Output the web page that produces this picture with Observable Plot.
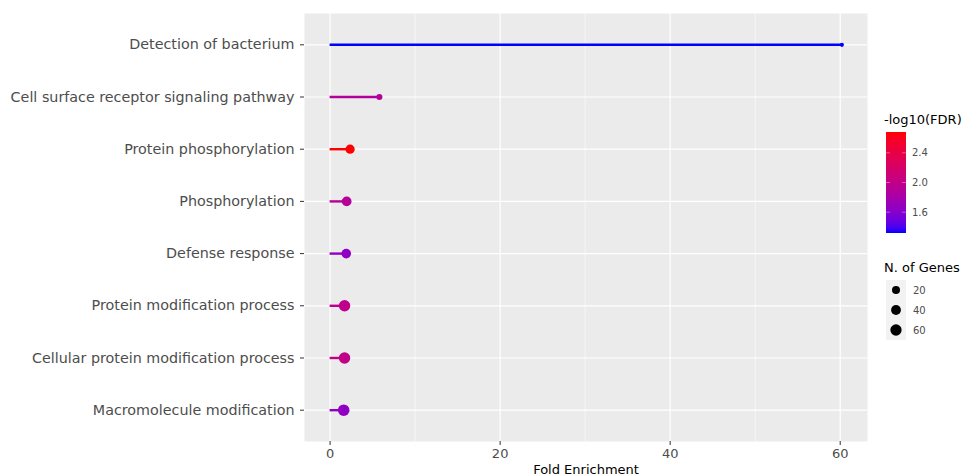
<!DOCTYPE html>
<html>
<head>
<meta charset="utf-8">
<script src="https://cdn.jsdelivr.net/npm/d3@7"></script>
<script src="https://cdn.jsdelivr.net/npm/@observablehq/plot@0.6"></script>
<style>
  html, body { margin: 0; padding: 0; background: #ffffff; }
  #chart { width: 965px; height: 475px; }
  svg { font-family: "DejaVu Sans", sans-serif; }
</style>
</head>
<body>
<div id="chart"></div>
<script>
// ---- data ----
const terms = [
  "Detection of bacterium",
  "Cell surface receptor signaling pathway",
  "Protein phosphorylation",
  "Phosphorylation",
  "Defense response",
  "Protein modification process",
  "Cellular protein modification process",
  "Macromolecule modification"
];
const foldEnrichment = [60.2, 5.8, 2.35, 1.95, 1.9, 1.7, 1.7, 1.6];
const negLog10FDR = [1.32, 1.88, 2.68, 1.9, 1.65, 1.98, 2.0, 1.66];
const nGenes = [3, 7, 32, 38, 36, 62, 63, 65];
const xTicks = [0, 20, 40, 60];
const xMinorTicks = [10, 30, 50];
const colorTicks = [1.6, 2.0, 2.4];
const sizeTicks = [20, 40, 60];

const data = terms.map((t, i) => ({
  term: t, fe: foldEnrichment[i], fdr: negLog10FDR[i], genes: nGenes[i]
}));

const minGenes = d3.min(nGenes), maxGenes = d3.max(nGenes);
const colorDomain = [1.32, 2.68];
const maxFE = d3.max(foldEnrichment);
const xDomain = [-0.05 * maxFE, maxFE * 1.05];

const colorOpts = { type: "linear", domain: colorDomain, range: ["blue", "red"], interpolate: d3.interpolateLab };
const rOpts = { type: "sqrt", domain: [0, maxGenes - minGenes], range: [2.06, 5.8] };

const W = 965, H = 475;
const plot = Plot.plot({
  width: W,
  height: H,
  marginLeft: 304,
  marginRight: 98,
  marginTop: 13,
  marginBottom: 34,
  style: { fontFamily: "DejaVu Sans, sans-serif", background: "white" },
  x: { domain: xDomain, ticks: xTicks, label: null },
  y: { type: "point", domain: terms, padding: 0.6, round: false, label: null },
  color: colorOpts,
  r: rOpts,
  marks: [
    Plot.frame({ fill: "#ebebeb", stroke: "none" }),
    Plot.gridX(xMinorTicks, { stroke: "white", strokeOpacity: 1, strokeWidth: 0.6 }),
    Plot.gridX(xTicks, { stroke: "white", strokeOpacity: 1, strokeWidth: 1.2 }),
    Plot.gridY(terms, { stroke: "white", strokeOpacity: 1, strokeWidth: 1.2 }),
    Plot.ruleY(data, { y: "term", x1: d => 0, x2: "fe", stroke: "fdr", strokeWidth: 2.4 }),
    Plot.dot(data, { x: "fe", y: "term", r: d => d.genes - minGenes, fill: "fdr", stroke: "none" }),
    Plot.axisY({ tickSize: 4, tickPadding: 6, fontSize: 14.3, color: "#4d4d4d", stroke: "#333", label: null }),
    Plot.axisX(xTicks, { tickSize: 4, tickPadding: 3, fontSize: 13, color: "#4d4d4d", stroke: "#333", label: null }),
    Plot.text(["Fold Enrichment"], { frameAnchor: "bottom", lineAnchor: "bottom", dy: 32, fontSize: 13, fill: "black", text: d => d })
  ]
});
document.getElementById("chart").appendChild(plot);

// ---- legends (drawn with the plot's own scales) ----
const svg = d3.select(plot);
const colorScale = Plot.scale({ color: colorOpts });
const rScale = Plot.scale({ r: rOpts });

const g = svg.append("g").attr("text-anchor", "start");
// colour bar
const barX = 886, barW = 20, barTop = 132, barBot = 233;
const grad = svg.append("defs").append("linearGradient")
  .attr("id", "cbar").attr("x1", 0).attr("x2", 0).attr("y1", 1).attr("y2", 0);
d3.range(0, 1.0001, 0.05).forEach(t => {
  const v = colorDomain[0] + t * (colorDomain[1] - colorDomain[0]);
  grad.append("stop").attr("offset", t).attr("stop-color", colorScale.apply(v));
});
g.append("text").attr("x", 884).attr("y", 124).attr("font-size", 13).attr("fill", "black").text("-log10(FDR)");
g.append("rect").attr("x", barX).attr("y", barTop).attr("width", barW).attr("height", barBot - barTop).attr("fill", "url(#cbar)");
const cy = d3.scaleLinear().domain(colorDomain).range([barBot, barTop]);
colorTicks.forEach(v => {
  const y = cy(v);
  g.append("line").attr("x1", barX).attr("x2", barX + 4).attr("y1", y).attr("y2", y).attr("stroke", "white").attr("stroke-opacity", 0.6).attr("stroke-width", 0.6);
  g.append("line").attr("x1", barX + barW - 4).attr("x2", barX + barW).attr("y1", y).attr("y2", y).attr("stroke", "white").attr("stroke-opacity", 0.6).attr("stroke-width", 0.6);
  g.append("text").attr("x", 912).attr("y", y).attr("dy", "0.35em").attr("font-size", 10).attr("fill", "#4d4d4d").text(v.toFixed(1));
});
// size legend
g.append("text").attr("x", 884).attr("y", 272).attr("font-size", 13).attr("fill", "black").text("N. of Genes");
sizeTicks.forEach((v, i) => {
  const y0 = 280 + i * 20;
  g.append("rect").attr("x", 886).attr("y", y0).attr("width", 20).attr("height", 20).attr("fill", "#f2f2f2");
  g.append("circle").attr("cx", 896).attr("cy", y0 + 10).attr("r", rScale.apply(v - minGenes)).attr("fill", "black");
  g.append("text").attr("x", 913).attr("y", y0 + 10).attr("dy", "0.35em").attr("font-size", 10).attr("fill", "#4d4d4d").text(v);
});
</script>
</body>
</html>
